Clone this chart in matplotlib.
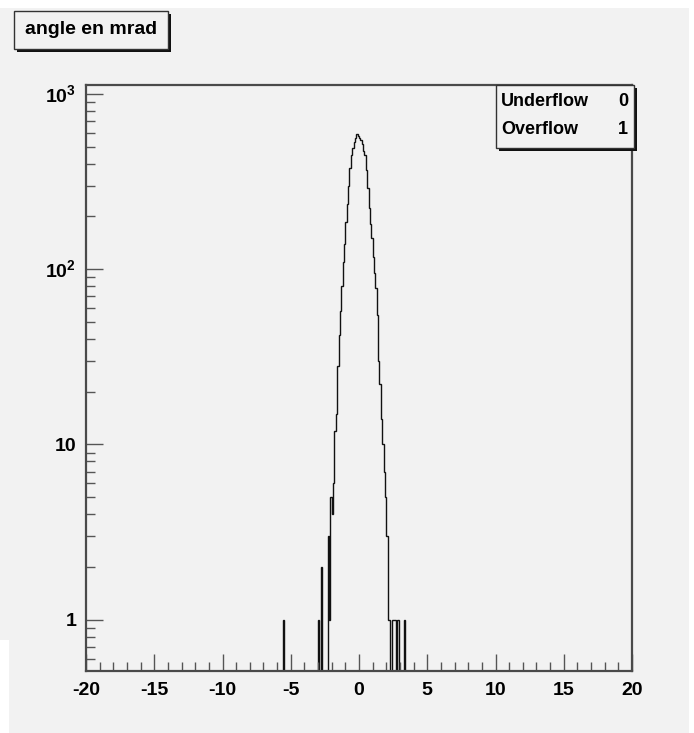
import numpy as np
import matplotlib.pyplot as plt
from matplotlib.patches import Rectangle
from matplotlib.ticker import FixedLocator, LogLocator, NullFormatter, MultipleLocator

plt.rcParams['font.family'] = ['Liberation Sans Narrow', 'Liberation Sans', 'DejaVu Sans']
plt.rcParams['font.weight'] = 'bold'
plt.rcParams['mathtext.fontset'] = 'custom'
plt.rcParams['mathtext.rm'] = 'Liberation Sans:bold'
plt.rcParams['mathtext.bf'] = 'Liberation Sans:bold'

# histogram content (bin width 0.1 mrad, range -20..20)
bin_centers = [-5.55, -2.95, -2.75, -2.25, -2.15, -2.05, -1.95, -1.85, -1.75, -1.65,
               -1.55, -1.45, -1.35, -1.25, -1.15, -1.05, -0.95, -0.85, -0.75, -0.65,
               -0.55, -0.45, -0.35, -0.25, -0.15, -0.05, 0.05, 0.15, 0.25, 0.35,
               0.45, 0.55, 0.65, 0.75, 0.85, 0.95, 1.05, 1.15, 1.25, 1.35,
               1.45, 1.55, 1.65, 1.75, 1.85, 1.95, 2.05, 2.15, 2.25, 2.45,
               2.55, 2.65, 2.85, 3.35]
bin_counts = [1, 1, 2, 3, 1, 5, 4, 6, 12, 15,
              28, 42, 58, 80, 110, 140, 185, 235, 300, 380,
              450, 490, 530, 560, 590, 575, 560, 545, 520, 475,
              450, 370, 290, 225, 180, 150, 118, 95, 78, 55,
              30, 22, 14, 10, 7, 5, 3, 1, 1, 1,
              1, 1, 1, 1]
hist_title = 'angle en mrad'
stat_names = ['Underflow', 'Overflow']
stat_values = ['0', '1']
x_ticks = [-20, -15, -10, -5, 0, 5, 10, 15, 20]
y_ticks = [1, 10, 100, 1000]
y_labels = ['1', '10', r'$10^{2}$', r'$10^{3}$']

bg = '#f2f2f2'
W, H = 694, 733

fig = plt.figure(figsize=(W / 100, H / 100), dpi=100, facecolor=bg)

def fx(px):
    return px / W

def fy(py):
    return 1 - py / H

# white margins of the screenshot
fig.patches.append(Rectangle((0, fy(8)), 1, 8 / H, transform=fig.transFigure, fc='white', ec='none'))
fig.patches.append(Rectangle((fx(689), 0), 5 / W, 1, transform=fig.transFigure, fc='white', ec='none'))
fig.patches.append(Rectangle((0, 0), fx(9), fy(640), transform=fig.transFigure, fc='white', ec='none'))

ax = fig.add_axes([fx(86), fy(671), fx(632) - fx(86), fy(85) - fy(671)])
ax.set_facecolor(bg)

edges = np.linspace(-20, 20, 401)
values = np.zeros(400)
idx = np.round((np.array(bin_centers) + 20) / 0.1 - 0.5).astype(int)
values[idx] = bin_counts
plot_vals = np.where(values > 0, values, 1e-3)
ax.stairs(plot_vals, edges, baseline=None, color='#111111', lw=1)

ax.set_yscale('log')
ax.set_xlim(-20, 20)
ax.set_ylim(0.51, 1125)

ax.xaxis.set_major_locator(FixedLocator(x_ticks))
ax.xaxis.set_minor_locator(MultipleLocator(1))
ax.set_xticklabels([str(t) for t in x_ticks])
ax.yaxis.set_major_locator(FixedLocator(y_ticks))
ax.yaxis.set_minor_locator(LogLocator(base=10, subs=np.arange(2, 10)))
ax.yaxis.set_minor_formatter(NullFormatter())
ax.set_yticklabels(y_labels)

ax.tick_params(which='both', direction='in', color='#555555', width=1,
               labelsize=14, top=False, right=False)
ax.tick_params(which='major', length=12)
ax.tick_params(which='minor', length=6.5)
ax.tick_params(axis='x', pad=8)
ax.tick_params(axis='y', pad=7)
for s in ax.spines.values():
    s.set_color('#4a4a4a')
    s.set_linewidth(1.6)

# title box
fig.patches.append(Rectangle((fx(17), fy(52)), fx(171) - fx(17), fy(14) - fy(52),
                             transform=fig.transFigure, fc='#111111', ec='none'))
fig.patches.append(Rectangle((fx(14), fy(49)), fx(168) - fx(14), fy(11) - fy(49),
                             transform=fig.transFigure, fc=bg, ec='#333333', lw=1))
fig.text(fx(91), fy(30), hist_title, ha='center', va='center', fontsize=14, fontweight='bold')

# stats box
fig.patches.append(Rectangle((fx(499), fy(151)), fx(637) - fx(499), fy(88) - fy(151),
                             transform=fig.transFigure, fc='#111111', ec='none'))
fig.patches.append(Rectangle((fx(496), fy(148)), fx(634) - fx(496), fy(85) - fy(148),
                             transform=fig.transFigure, fc=bg, ec='#333333', lw=1))
for i, (name, val) in enumerate(zip(stat_names, stat_values)):
    yy = fy(102 + i * 28)
    fig.text(fx(501), yy, name, ha='left', va='center', fontsize=13, fontweight='bold')
    fig.text(fx(628), yy, val, ha='right', va='center', fontsize=13, fontweight='bold')

fig.savefig('out.png', dpi=100, facecolor=bg)
